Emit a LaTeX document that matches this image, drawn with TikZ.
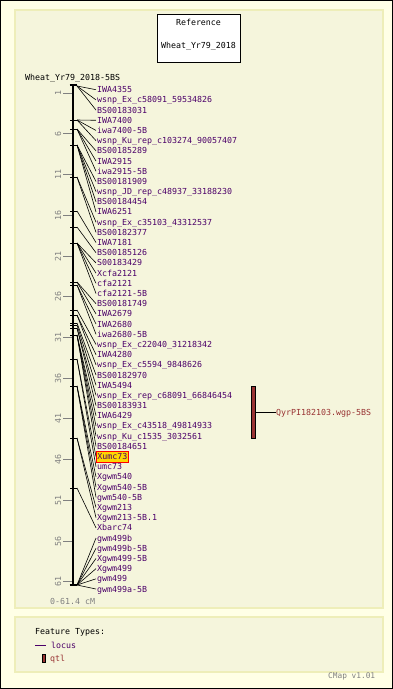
\documentclass[tikz,border=0pt]{standalone}
\usepackage{fontspec}
\setmonofont{DejaVu Sans Mono}
\definecolor{outerbg}{RGB}{255,255,230}
\definecolor{panelbg}{RGB}{245,245,220}
\definecolor{panelline}{RGB}{238,238,185}
\definecolor{locuscol}{RGB}{75,0,105}
\definecolor{qtlred}{RGB}{153,51,51}
\definecolor{scalegray}{RGB}{128,128,128}
\definecolor{hiyellow}{RGB}{255,215,0}

\begin{document}
\begin{tikzpicture}[x=1pt,y=-1pt,font=\ttfamily\fontsize{8.3}{10}\selectfont]
\tikzset{plaintext/.style = {inner sep=0pt,text height=6pt,text depth=0pt}}
\tikzset{maplabel/.style = {plaintext,anchor=west,inner xsep=1pt,text=locuscol}}
\tikzset{hilabel/.style = {maplabel,fill=hiyellow,draw=red,line width=0.7pt,inner ysep=2.5pt}}
\tikzset{link/.style = {draw=black,line width=0.6pt}}
\tikzset{scaletick/.style = {draw=scalegray,line width=0.8pt}}
\tikzset{panel/.style = {fill=panelbg,draw=panelline,line width=1.5pt}}

\useasboundingbox (0,0) rectangle (393,689);
\fill[outerbg] (0,0) rectangle (393,689);
\draw[black,line width=1pt] (0.5,0.5) rectangle (392.5,688.5);
\draw[panel] (15,10) rectangle (383,608);
\draw[panel] (15,617) rectangle (383,672);

% reference box
\node[draw,fill=white,line width=0.8pt,minimum width=83pt,minimum height=48pt](refbox) at (198.5,38) {};
\node[plaintext](reftitle) at (198.5,22) {Reference};
\node[plaintext](refname) at (198.5,45) {Wheat\_Yr79\_2018};
\node[plaintext,anchor=west](mapname) at (25,77) {Wheat\_Yr79\_2018-5BS};

% chromosome
\coordinate (ctop) at (73,85);
\coordinate (cbot) at (73,585);
\draw[line width=2pt] (ctop) -- (cbot);
\draw[line width=1.5pt] ([xshift=-3.5pt]ctop) -- ([xshift=3.5pt]ctop);
\draw[line width=1.5pt] ([xshift=-3.5pt]cbot) -- ([xshift=3.5pt]cbot);

% scale
\foreach \v in {1,6,...,61} {
  \pgfmathsetmacro\ty{85+\v*8.143}
  \draw[scaletick] (63,\ty) -- (72,\ty);
  \node[plaintext,rotate=90,text=scalegray](tk\v) at (58,\ty) {\v};
}
\node[plaintext,anchor=west,text=scalegray](scalelen) at (50,601) {0-61.4 cM};

% marker ticks
\foreach \my in {120,129,145,177,211,227,243,282,285,310,315,323,325,328,335,359,386,438,488} {
  \draw[line width=0.8pt] (70,\my) -- (77,\my);
}

% loci
\foreach \my/\lname/\lsty [count=\i from 0] in {
  86/IWA4355/maplabel, 86/wsnp\_Ex\_c58091\_59534826/maplabel, 86/BS00183031/maplabel,
  120/IWA7400/maplabel, 120/iwa7400-5B/maplabel, 120/wsnp\_Ku\_rep\_c103274\_90057407/maplabel,
  129/BS00185289/maplabel, 129/IWA2915/maplabel, 129/iwa2915-5B/maplabel,
  145/BS00181909/maplabel, 145/wsnp\_JD\_rep\_c48937\_33188230/maplabel, 145/BS00184454/maplabel,
  145/IWA6251/maplabel, 177/wsnp\_Ex\_c35103\_43312537/maplabel, 177/BS00182377/maplabel,
  211/IWA7181/maplabel, 227/BS00185126/maplabel, 243/S00183429/maplabel,
  243/Xcfa2121/maplabel, 243/cfa2121/maplabel, 243/cfa2121-5B/maplabel,
  282/BS00181749/maplabel, 282/IWA2679/maplabel, 285/IWA2680/maplabel, 285/iwa2680-5B/maplabel,
  310/wsnp\_Ex\_c22040\_31218342/maplabel, 315/IWA4280/maplabel, 315/wsnp\_Ex\_c5594\_9848626/maplabel,
  323/BS00182970/maplabel, 325/IWA5494/maplabel, 328/wsnp\_Ex\_rep\_c68091\_66846454/maplabel,
  328/BS00183931/maplabel, 335/IWA6429/maplabel, 335/wsnp\_Ex\_c43518\_49814933/maplabel,
  335/wsnp\_Ku\_c1535\_3032561/maplabel, 335/BS00184651/maplabel,
  359/Xumc73/hilabel, 359/umc73/maplabel,
  386/Xgwm540/maplabel, 386/Xgwm540-5B/maplabel, 386/gwm540-5B/maplabel,
  438/Xgwm213/maplabel, 438/Xgwm213-5B.1/maplabel, 488/Xbarc74/maplabel,
  585/gwm499b/maplabel, 585/gwm499b-5B/maplabel, 585/Xgwm499-5B/maplabel,
  585/Xgwm499/maplabel, 585/gwm499/maplabel, 585/gwm499a-5B/maplabel} {
  \pgfmathsetmacro\ly{89.7+10.19*\i}
  \coordinate (mk\i) at (77,\my);
  \node[\lsty](lb\i) at (96,\ly) {\lname};
  \draw[link] (mk\i) -- (lb\i.west);
}

% qtl
\node[draw=black,fill=qtlred,line width=0.6pt,inner sep=0pt,minimum width=3.5pt,minimum height=52pt](qtlbar) at (253.2,412) {};
\node[plaintext,anchor=west,text=qtlred](qtlname) at (276,412) {QyrPI182103.wgp-5BS};
\draw[link] (qtlbar.east) -- (qtlname.west);

% legend
\node[plaintext,anchor=west](legtitle) at (35,631) {Feature Types:};
\coordinate (legline) at (35,645);
\node[plaintext,anchor=west,text=locuscol](leglocus) at (51,645) {locus};
\draw[locuscol,line width=0.8pt,shorten >=5pt] (legline) -- (leglocus.west);
\node[draw=black,fill=qtlred,line width=0.6pt,inner sep=0pt,minimum width=3pt,minimum height=8pt](legqtlbox) at (43.8,658) {};
\node[plaintext,anchor=west,text=qtlred](legqtl) at (50,658) {qtl};
\node[plaintext,anchor=west,text=scalegray,font=\ttfamily\fontsize{7.8}{9}\selectfont](version) at (328,675) {CMap v1.01};
\end{tikzpicture}
\end{document}
